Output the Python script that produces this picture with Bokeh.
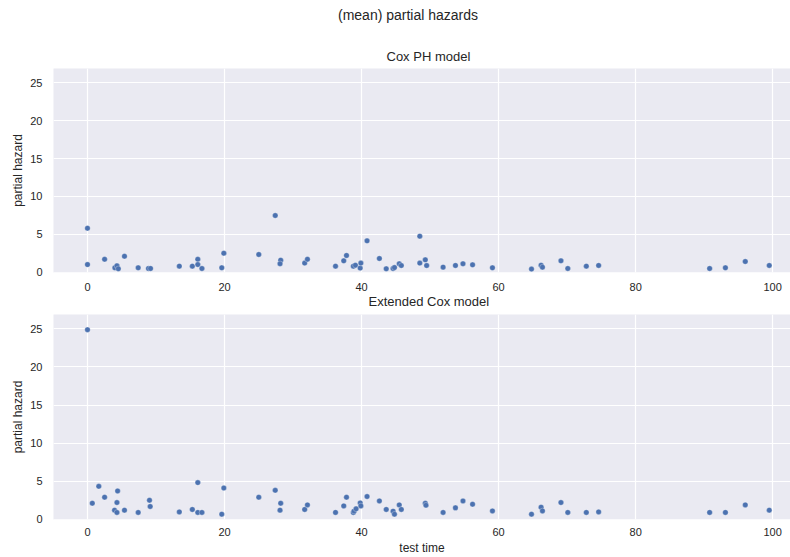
from bokeh.plotting import figure
from bokeh.layouts import column
from bokeh.models import FixedTicker, Range1d, Div, Title
from bokeh.embed import file_html
from bokeh.resources import INLINE

# ---- data ----
cox_time = [0.0, 0.0, 2.5, 4.0, 4.3, 4.5, 5.4, 7.4, 8.9, 9.2,
            13.4, 15.3, 16.1, 16.1, 16.7, 19.6, 19.9, 25.0, 27.4, 28.2,
            28.1, 31.7, 32.1, 36.2, 37.4, 37.8, 38.8, 39.1, 39.8, 39.9,
            40.8, 42.6, 43.6, 44.6, 44.8, 45.5, 45.8, 48.5, 48.5, 49.3,
            49.5, 51.9, 53.7, 54.8, 56.2, 59.1, 64.8, 66.2, 66.4, 69.1,
            70.1, 72.8, 74.6, 90.8, 93.1, 96.0, 99.5]
cox_hazard = [5.8, 1.0, 1.7, 0.57, 0.83, 0.44, 2.1, 0.57, 0.48, 0.48,
              0.79, 0.79, 1.7, 1.0, 0.48, 0.57, 2.5, 2.33, 7.48, 1.58,
              1.1, 1.19, 1.7, 0.79, 1.49, 2.2, 0.79, 0.92, 0.53, 1.19,
              4.13, 1.8, 0.44, 0.48, 0.6, 1.1, 0.87, 4.75, 1.19, 1.62,
              0.87, 0.66, 0.88, 1.1, 0.96, 0.57, 0.40, 0.92, 0.66, 1.49,
              0.48, 0.79, 0.88, 0.48, 0.57, 1.4, 0.88]

ext_time = [0.0, 0.7, 1.65, 2.5, 3.95, 4.3, 4.3, 4.4, 5.4, 7.4,
            9.05, 9.15, 13.4, 15.3, 16.1, 16.1, 16.7, 19.6, 19.9, 25.0,
            27.4, 28.2, 28.1, 31.7, 32.1, 36.2, 37.4, 37.8, 38.8, 38.9,
            39.2, 39.8, 39.9, 40.8, 42.6, 43.6, 44.6, 44.8, 45.5, 45.8,
            49.3, 49.4, 51.9, 53.7, 54.8, 56.2, 59.1, 64.8, 66.2, 66.4,
            69.1, 70.1, 72.8, 74.6, 90.8, 93.1, 96.0, 99.5]
ext_hazard = [24.9, 2.09, 4.31, 2.88, 1.18, 0.88, 2.18, 3.7, 1.18, 0.88,
              2.48, 1.66, 0.95, 1.27, 4.8, 0.88, 0.88, 0.65, 4.09, 2.88,
              3.79, 2.09, 1.18, 1.27, 1.87, 0.88, 1.74, 2.88, 0.88, 1.05,
              1.35, 2.13, 1.74, 2.97, 2.39, 1.27, 1.05, 0.65, 1.87, 1.27,
              2.09, 1.83, 0.88, 1.48, 2.39, 1.96, 1.08, 0.65, 1.57, 1.08,
              2.18, 0.88, 0.88, 0.95, 0.88, 0.88, 1.87, 1.18]

x_ticks = [0, 20, 40, 60, 80, 100]
y_ticks = [0, 5, 10, 15, 20, 25]

FONT = "Liberation Sans"
TEXT = "#262626"
BG = "#EAEAF2"
BLUE = "#4C72B0"


def style_title(t, offset, valign, standoff):
    t.align = "left"
    t.offset = offset
    t.vertical_align = valign
    t.standoff = standoff
    t.text_font = FONT
    t.text_font_size = "13px"
    t.text_font_style = "normal"
    t.text_color = TEXT


def make_panel(height, top, bottom, xstandoff, xlabel=None):
    p = figure(width=790, height=height,
               x_range=Range1d(-4.96, 102.6), y_range=Range1d(-0.05, 26.9),
               output_backend="svg", toolbar_location=None,
               min_border_left=53, min_border_right=0,
               min_border_top=top, min_border_bottom=bottom)
    p.background_fill_color = BG
    p.border_fill_color = "white"
    p.outline_line_color = None

    for ax in (p.xaxis, p.yaxis):
        ax.axis_line_color = None
        ax.major_tick_line_color = None
        ax.minor_tick_line_color = None
        ax.major_tick_out = 0
        ax.major_tick_in = 0
        ax.major_label_text_font = FONT
        ax.major_label_text_font_size = "11px"
        ax.major_label_text_color = TEXT
        ax.axis_label_text_font = FONT
        ax.axis_label_text_font_size = "12px"
        ax.axis_label_text_font_style = "normal"
        ax.axis_label_text_color = TEXT
    p.xaxis.ticker = FixedTicker(ticks=x_ticks)
    p.yaxis.ticker = FixedTicker(ticks=y_ticks)
    p.xaxis.major_label_standoff = xstandoff
    p.yaxis.major_label_standoff = 11
    p.yaxis.axis_label = "partial hazard"
    p.yaxis.axis_label_standoff = 2
    if xlabel:
        p.xaxis.axis_label = xlabel
        p.xaxis.axis_label_standoff = 2

    p.xgrid.grid_line_color = "white"
    p.ygrid.grid_line_color = "white"
    p.xgrid.grid_line_width = 1.2
    p.ygrid.grid_line_width = 1.2
    return p


suptitle = Div(
    text=('<div style="margin-left:338px; margin-top:7px; '
          'font-family:\'Liberation Sans\'; font-size:14px; line-height:16px; '
          'color:#262626; white-space:nowrap">(mean) partial hazards</div>'),
    width=790, height=42, margin=(0, 0, 0, 0))

# top panel: frame 68..272, its x axis, then the lower panel's title below
p1 = make_panel(270, 26, 40, 10)
p1.title.text = "Cox PH model"
style_title(p1.title, 333, "bottom", 9)
t2 = Title(text="Extended Cox model")
style_title(t2, 315, "top", 0)
p1.add_layout(t2, "below")
p1.scatter(cox_time, cox_hazard, size=5.5, fill_color=BLUE,
           line_color="white", line_width=0.3)

# bottom panel: frame 314..519
p2 = make_panel(245, 2, 38, 8, xlabel="test time")
p2.title.text = ""
p2.scatter(ext_time, ext_hazard, size=5.5, fill_color=BLUE,
           line_color="white", line_width=0.3)

layout = column(suptitle, p1, p2, spacing=0)
open("out.html", "w").write(file_html(layout, INLINE))
